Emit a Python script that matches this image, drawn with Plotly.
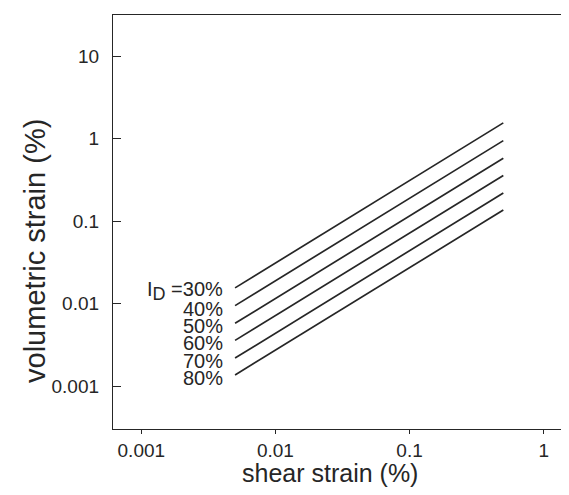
import plotly.graph_objects as go
import numpy as np

# Data
relative_density = ["30%", "40%", "50%", "60%", "70%", "80%"]
shear_strain = [0.005, 0.5]
vol_strain_start = [0.0156, 0.0095, 0.0058, 0.0036, 0.0022, 0.00137]
vol_strain_end = [1.56, 0.95, 0.58, 0.36, 0.22, 0.137]

x_tickvals = [0.001, 0.01, 0.1, 1]
x_ticktext = ["0.001", "0.01", "0.1", "1"]
y_tickvals = [0.001, 0.01, 0.1, 1, 10]
y_ticktext = ["0.001", "0.01", "0.1", "1", "10"]

FONT = "Liberation Sans, Arial, Helvetica, sans-serif"
INK = "#262626"

fig = go.Figure()
for name, y0, y1 in zip(relative_density, vol_strain_start, vol_strain_end):
    fig.add_trace(go.Scatter(
        x=shear_strain, y=[y0, y1], mode="lines",
        line=dict(color=INK, width=1.7), name=name, showlegend=False,
        hoverinfo="skip"))

for i, (name, y0) in enumerate(zip(relative_density, vol_strain_start)):
    if i == 0:
        label = "I<sub><span style='font-size:18px'>D</span></sub> =" + name
    else:
        label = name
    fig.add_annotation(
        x=np.log10(shear_strain[0]) - 0.075, y=np.log10(y0) - 0.035,
        xref="x", yref="y", text=label, showarrow=False,
        xanchor="right", yanchor="middle",
        font=dict(family=FONT, size=20, color=INK))

# axis titles
fig.add_annotation(
    x=0.473, y=-0.107, xref="paper", yref="paper", text="shear strain (%)",
    showarrow=False, xanchor="center", yanchor="middle",
    font=dict(family=FONT, size=25, color=INK))
fig.add_annotation(
    x=-0.17, y=0.43, xref="paper", yref="paper", text="volumetric strain (%)",
    textangle=-90, showarrow=False, xanchor="center", yanchor="middle",
    font=dict(family=FONT, size=29, color=INK))

fig.update_xaxes(
    type="log", range=[-3.211, 0.211],
    tickvals=x_tickvals, ticktext=x_ticktext,
    ticks="outside", ticklen=4, tickwidth=1.3, tickcolor=INK,
    showline=True, linecolor=INK, linewidth=1.3, mirror=True,
    showgrid=False, zeroline=False,
    tickfont=dict(family=FONT, size=19, color=INK),
)
fig.update_yaxes(
    type="log", range=[-3.518, 1.501],
    tickvals=y_tickvals, ticktext=y_ticktext,
    ticks="inside", ticklen=8, tickwidth=1.3, tickcolor=INK,
    ticklabelstandoff=9,
    showline=True, linecolor=INK, linewidth=1.3, mirror=True,
    showgrid=False, zeroline=False,
    tickfont=dict(family=FONT, size=19, color=INK),
)
fig.update_layout(
    width=569, height=495,
    margin=dict(l=105, r=5, t=7, b=74),
    paper_bgcolor="white", plot_bgcolor="white",
    font=dict(family=FONT, color=INK),
)
fig.write_html("out.html")
